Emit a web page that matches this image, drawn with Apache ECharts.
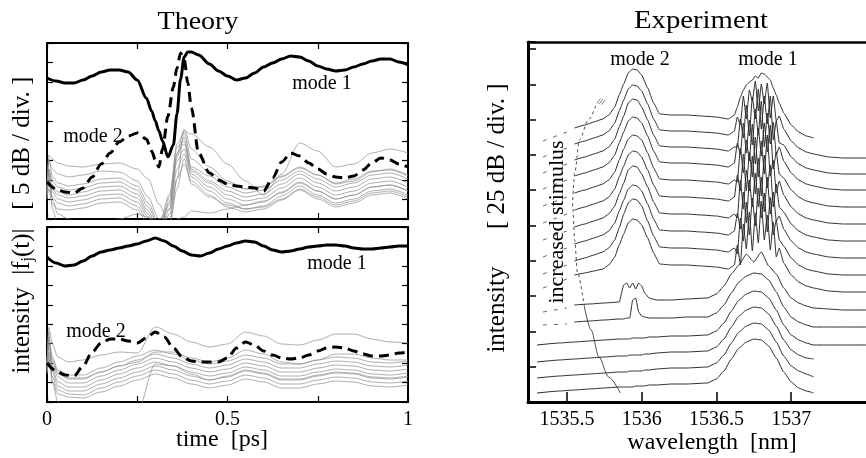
<!DOCTYPE html>
<html><head><meta charset="utf-8">
<script src="https://cdn.jsdelivr.net/npm/echarts@6/dist/echarts.min.js"></script>
<style>html,body{margin:0;padding:0;background:#fff}#c{width:866px;height:458px}</style>
</head><body><div id="c"></div>
<script>
// ---------- Theory, upper panel (heights in plot units, 9 divisions) ----------
const T_TOP = [0,0.025,0.05,0.075,0.1,0.125,0.15,0.175,0.2,0.225,0.25,0.275,0.29,0.3,0.31,0.32,0.335,0.35,0.36,0.37,0.38,0.39,0.4,0.42,0.45,0.475,0.5,0.525,0.55,0.575,0.6,0.625,0.65,0.675,0.7,0.725,0.75,0.775,0.8,0.825,0.85,0.875,0.9,0.925,0.95,0.975,1];
const MODE1_TOP = [141,138,136,136,139,143,147,149,149,147,139,121,108,98,88,78,62,74,105,140,162,167,167,164,155,148,143,139,141,146,152,156,160,163,162,158,153,150,148,149,152,155,158,160,160,157,154];
const MODE2_TOP = [37,30,27,26,31,42,55,66,77,83,86,80,68,59,52,70,103,132,151,166,160,136,111,66,46,39,35,33,32,31,28,41,57,66,63,56,50,45,42,41,43,49,56,61,59,55,52];
const T_GRAY_TOP = [0,0.005,0.015,0.03,0.06,0.1,0.15,0.2,0.25,0.28,0.31,0.34,0.36,0.38,0.4,0.45,0.5,0.55,0.6,0.65,0.7,0.75,0.8,0.85,0.9,0.95,1];
const GRAY_TOP = [
 [20,64,60,56,53,52,55,56,50,40,15,-5,40,88,85,72,55,38,24,45,76,68,52,55,66,70,66],
 [25,58,50,45,42,44,48,47,38,22,0,10,65,90,70,52,38,30,32,42,52,44,35,38,47,50,44],
 [35,60,42,36,33,35,40,41,33,16,-5,25,75,86,60,47,36,30,33,43,51,44,36,40,48,49,43],
 [32,50,38,32,29,31,36,37,29,12,-8,15,62,82,52,43,32,26,29,39,48,40,32,36,44,46,40],
 [28,45,34,27,24,27,32,33,25,8,-12,22,72,78,50,38,28,22,25,35,45,36,28,32,40,42,36],
 [26,40,30,24,21,23,28,29,21,5,-15,18,66,75,48,36,24,18,21,31,41,32,24,28,36,38,32],
 [24,38,27,20,17,19,24,25,17,2,-18,10,58,70,45,32,20,14,17,27,37,28,20,24,32,34,28],
 [22,35,22,16,13,15,20,21,13,-2,-20,5,50,65,42,28,16,10,13,23,33,24,16,20,28,30,24],
 [20,30,15,10,9,11,16,17,9,-5,-22,0,40,55,38,24,12,7,10,19,29,20,12,16,24,26,20],
 [30,48,10,-5,-10,-10,-10,-10,-10,-10,-10,-5,30,60,35,22,14,10,12,20,30,22,14,18,26,28,22],
 [30,50,20,5,0,-5,-5,0,5,2,-10,-10,0,2,8,6,10,14,18,26,36,28,20,24,32,34,28]
];
// ---------- Theory, lower panel ----------
const T_BOT = [0,0.025,0.05,0.075,0.1,0.125,0.15,0.175,0.2,0.225,0.25,0.275,0.3,0.325,0.35,0.375,0.4,0.425,0.45,0.475,0.5,0.525,0.55,0.575,0.6,0.625,0.65,0.675,0.7,0.725,0.75,0.775,0.8,0.825,0.85,0.875,0.9,0.925,0.95,0.975,1];
const MODE1_BOT = [145,139,136,137,141,146,150,152,154,156,158,161,164,161,156,151,147,146,149,153,156,159,161,160,156,152,150,151,153,155,156,157,157,156,154,153,153,154,155,156,156];
const MODE2_BOT = [39,31,27,26,36,50,59,63,63,61,59,64,70,65,54,45,41,40,40,40,44,54,60,57,51,47,44,43,44,47,51,54,55,54,51,48,46,46,47,49,50];
const T_GRAY_BOT = [0,0.005,0.015,0.03,0.06,0.1,0.15,0.2,0.25,0.3,0.35,0.4,0.45,0.5,0.55,0.6,0.65,0.7,0.75,0.8,0.85,0.9,0.95,1];
const GRAY_BOT = [
 [30,75,58,45,40,42,47,50,49,75,68,60,55,58,70,66,58,57,62,68,68,63,60,59],
 [40,65,45,32,27,27,34,40,46,52,48,42,38,41,47,44,38,38,42,45,44,40,39,41],
 [38,62,40,28,23,23,30,36,42,48,44,38,34,37,43,40,34,34,38,41,40,36,35,37],
 [36,55,37,25,19,19,26,32,38,44,40,34,30,33,39,36,30,30,34,37,36,32,31,33],
 [34,50,33,20,15,15,22,28,34,40,36,30,26,29,35,32,26,26,30,33,32,28,27,29],
 [32,48,30,16,11,11,18,24,30,36,32,26,22,25,31,28,22,22,26,29,28,24,23,25],
 [30,45,25,12,8,7,14,20,26,32,28,22,18,21,27,24,18,18,22,25,24,20,19,21],
 [28,42,20,8,5,4,10,16,22,28,24,18,14,17,23,20,14,14,18,21,20,16,15,17],
 [35,70,20,0,-10,-10,-10,-10,-10,38,36,28,22,26,32,29,23,23,27,30,29,25,24,26],
 [38,58,42,30,24,24,30,36,40,50,50,44,40,44,52,48,40,38,42,48,48,44,42,42]
];
// ---------- Experiment (wavelength in nm, intensity in plot units) ----------
const WL_UP = [1535.55,1535.62,1535.68,1535.74,1535.78,1535.82,1535.85,1535.88,1535.91,1535.94,1535.97,1536.0,1536.04,1536.08,1536.12,1536.2,1536.3,1536.4,1536.5,1536.58,1536.62,1536.64,1536.66,1536.68,1536.7,1536.72,1536.74,1536.76,1536.78,1536.8,1536.82,1536.84,1536.86,1536.88,1536.9,1536.92,1536.95,1537.0,1537.05,1537.1,1537.15,1537.25,1537.35,1537.5];
const TRACES_UP = [
 [274,277,280,283,287,295,307,318,329,333,332,327,314,299,288,287,287,286,285,283,287,295,305,312,317,320,322,326,324,329,328,325,322,314,307,299,289,277,270,266,264,null,null,null],
 [258,261,264,267,271,279,291,302,313,317,316,311,298,283,272,271,271,270,269,267,271,285,277,306,283,312,301,321,291,318,298,319,284,306,281,286,273,261,254,250,248,245,244,244],
 [242,245,248,251,255,263,275,286,299,303,302,295,282,267,256,255,255,254,253,251,255,255,283,264,297,266,305,283,313,273,306,278,306,262,281,259,257,245,238,234,232,229,228,228],
 [226,229,232,235,239,247,259,270,281,285,284,279,266,251,240,239,239,238,237,235,239,259,247,279,249,282,257,293,267,301,255,289,258,280,247,255,241,229,222,218,216,213,212,212],
 [209,212,215,218,222,230,242,253,263,267,266,262,249,234,223,222,222,221,220,218,222,220,254,229,262,241,278,238,274,246,279,250,277,233,250,228,224,212,205,201,199,196,195,195],
 [192,195,198,201,205,213,225,236,247,251,250,245,232,217,206,205,205,204,203,201,205,227,211,248,211,250,225,265,225,261,228,267,226,242,209,221,207,195,188,184,182,179,178,178],
 [175,178,181,184,188,196,208,219,232,236,235,228,215,200,189,188,188,187,186,184,188,184,222,193,232,211,246,208,244,206,247,214,237,195,218,195,190,178,171,167,165,162,161,161],
 [158,161,164,167,171,179,191,202,213,217,216,211,198,183,172,171,171,170,169,167,171,189,173,210,179,222,195,229,195,225,190,225,188,210,181,186,173,161,154,150,148,145,144,144],
 [141,144,147,150,154,162,174,188,199,203,202,196,181,166,155,154,154,153,152,150,154,148,184,161,200,167,204,176,214,184,209,170,205,167,182,162,156,144,137,133,131,128,127,127],
 [127,129,131,133,137,145,157,168,179,183,182,177,164,149,138,137,137,136,135,133,137,157,137,178,153,190,151,189,159,201,162,187,152,180,145,154,139,127,120,116,114,111,110,110]
];
const WL_LOW = [1535.3,1535.45,1535.55,1535.65,1535.75,1535.85,1535.88,1535.9,1535.92,1535.94,1535.96,1535.98,1536.0,1536.02,1536.05,1536.1,1536.2,1536.3,1536.44,1536.5,1536.55,1536.6,1536.65,1536.7,1536.75,1536.8,1536.85,1536.9,1536.95,1537.0,1537.05,1537.1,1537.15,1537.25,1537.35,1537.5];
const TRACES_LOW = [
 [null,null,97,98,99,100,117,119,114,119,113,119,116,109,104,102,102,103,104,108,116,128,137,148,140,150,136,128,114,104,99,96,94,93,92,92],
 [null,null,80,81,82,83,83,84,84,102,104,90,86,85,84,84,84,85,85,89,97,109,120,126,129,128,122,110,95,85,80,77,75,75,75,75],
 [57,59,60,61,62,63,63,63,63,64,64,64,64,64,65,65,66,66,67,71,79,91,102,108,111,110,104,92,77,67,62,59,57,57,57,57],
 [40,42,43,44,45,46,46,46,47,47,47,47,47,48,48,49,50,50,51,55,63,75,86,92,95,94,88,76,62,52,47,44,43,null,null,null],
 [24,26,27,28,29,30,30,30,31,31,31,31,31,32,32,33,34,34,35,39,47,59,70,76,79,78,72,60,46,36,31,28,25,null,null,null],
 [9,11,12,13,14,15,15,15,15,15,16,16,16,16,17,17,18,18,19,23,31,43,54,60,63,62,56,44,30,20,14,11,9,null,null,null]
];
const TAIL_WL = [1535.34,1535.5];
const TAIL_START = [261,245,229,213,196,179,162,145,128,114,90,77];
const TAIL_END = [270,254,238,222,205,188,171,154,137,123,94,78];
const ARC_WL = [1535.857,1535.779,1535.714,1535.662,1535.617,1535.571,1535.552,1535.539,1535.552,1535.584,1535.643,1535.695];
const ARC_H = [9,25,45,72,95,129,162,195,229,262,282,297];
const TIME_TICKS = [0,0.5,1];
const WL_TICKS = [1535.5,1536,1536.5,1537];

const F = "'Liberation Serif','Times New Roman',serif";
const chart = echarts.init(document.getElementById('c'), null, {renderer:'canvas'});

function pairs(xs, ys){ return xs.map((x,i)=>[x, ys[i]]); }
function ln(xi, yi, xs, ys, style, smooth, z){
  return {type:'line', xAxisIndex:xi, yAxisIndex:yi, data:pairs(xs,ys), showSymbol:false, symbol:'none',
    smooth:smooth, smoothMonotone:'x', lineStyle:style, silent:true, z:z||2, animation:false};
}
function xAx(g, pos, min, max, interval, opts){
  return Object.assign({gridIndex:g, type:'value', position:pos, min:min, max:max, interval:interval,
    axisLine:{show:true, onZero:false, lineStyle:{color:'#000', width:2}},
    axisTick:{show:true, inside:true, length:6, lineStyle:{color:'#000', width:1.2}},
    axisLabel:{show:false}, splitLine:{show:false}}, opts||{});
}
const series = [];
GRAY_TOP.forEach(g=>series.push(ln(0,0,T_GRAY_TOP,g,{color:'#8c8c8c',width:0.7},0.3,1)));
series.push(ln(0,0,T_TOP,MODE2_TOP,{color:'#000',width:3,type:[10,6]},0.3,3));
series.push(ln(0,0,T_TOP,MODE1_TOP,{color:'#000',width:3},0.3,3));
GRAY_BOT.forEach(g=>series.push(ln(2,2,T_GRAY_BOT,g,{color:'#8c8c8c',width:0.7},0.3,1)));
series.push(ln(2,2,T_BOT,MODE2_BOT,{color:'#000',width:3,type:[10,6]},0.3,3));
series.push(ln(2,2,T_BOT,MODE1_BOT,{color:'#000',width:3},0.3,3));
TRACES_UP.forEach(t=>series.push(ln(4,4,WL_UP,t,{color:'#2b2b2b',width:1},0.12,2)));
TRACES_LOW.forEach(t=>series.push(ln(4,4,WL_LOW,t,{color:'#2b2b2b',width:1},0.15,2)));
TAIL_START.forEach((s,i)=>series.push(ln(4,4,TAIL_WL,[s,TAIL_END[i]],{color:'#555',width:0.9,type:[4,7]},false,2)));
series.push(ln(4,4,ARC_WL.slice(0,5),ARC_H.slice(0,5),{color:'#222',width:0.8},0.3,2));
series.push(ln(4,4,ARC_WL.slice(4),ARC_H.slice(4),{color:'#222',width:0.8,type:[3,3]},0.3,2));

const lbl = (txt,x,y,size,extra)=>Object.assign({type:'text', x:x, y:y, z:50,
  style:{text:txt, fontFamily:F, fontSize:size, fill:'#000', textAlign:'center', textVerticalAlign:'middle'}}, extra||{});

const option = {
  backgroundColor:'#fff', animation:false,
  grid:[
    {left:47, top:43, width:361, height:176},
    {left:47, top:227, width:361, height:175},
    {left:528, top:42, width:348, height:360}
  ],
  xAxis:[
    xAx(0,'bottom',0,1,0.25),
    xAx(0,'top',0,1,0.25),
    xAx(1,'bottom',0,1,0.25,{axisLabel:{show:true, margin:8, fontFamily:F, fontSize:20, color:'#000',
       formatter:v=>TIME_TICKS.some(t=>Math.abs(t-v)<1e-6)?String(v):''}}),
    xAx(1,'top',0,1,0.25),
    {gridIndex:2, type:'value', position:'bottom', min:1535.24, max:1537.5,
     axisLine:{show:true,onZero:false,lineStyle:{color:'#000',width:3}},
     axisTick:{show:true,inside:true,length:10,customValues:WL_TICKS,lineStyle:{color:'#000',width:1.5}},
     axisLabel:{show:true,customValues:WL_TICKS,margin:8,fontFamily:F,fontSize:20,color:'#000',formatter:v=>String(v)},
     splitLine:{show:false}},
    {gridIndex:2, type:'value', position:'top', min:1535.24, max:1537.5,
     axisLine:{show:true,onZero:false,lineStyle:{color:'#000',width:2.5}},
     axisTick:{show:false}, axisLabel:{show:false}, splitLine:{show:false}}
  ],
  yAxis:[
    xAx(0,'left',0,176,176/9),
    xAx(0,'right',0,176,176/9),
    xAx(1,'left',0,175,175/9),
    xAx(1,'right',0,175,175/9),
    {gridIndex:2, type:'value', position:'left', min:0, max:360, interval:35.3,
     axisLine:{show:true,onZero:false,lineStyle:{color:'#000',width:3}},
     axisTick:{show:true,inside:true,length:8,lineStyle:{color:'#000',width:1.5}},
     axisLabel:{show:false}, splitLine:{show:false}}
  ],
  series: series,
  graphic:[
    lbl('Theory',198,22,25,{scaleX:1.12}),
    lbl('Experiment',701,21,25,{scaleX:1.15}),
    lbl('time  [ps]',222,440,24),
    lbl('wavelength  [nm]',712,443,24),
    lbl('mode 1',322,84,20), lbl('mode 2',93,137,20),
    lbl('mode 1',337,264,20), lbl('mode 2',96,332,20),
    lbl('mode 2',640,60,20), lbl('mode 1',768,60,20),
    lbl('increased stimulus',557,222,22,{rotation:Math.PI/2}),
    lbl('intensity      [ 25 dB / div. ]',497,218,25,{rotation:Math.PI/2}),
    {type:'text', x:22, y:225, z:50, rotation:Math.PI/2,
     style:{text:'{a|intensity  |f}{b|j}{a|(t)|   [ 5 dB / div. ]}', textAlign:'center', textVerticalAlign:'middle',
       rich:{a:{fontFamily:F,fontSize:25,fill:'#000'}, b:{fontFamily:F,fontSize:16,fill:'#000',padding:[12,0,0,0]}}}},
    lbl('///',601,102,9,{rotation:-0.3})
  ]
};
chart.setOption(option);
</script></body></html>
